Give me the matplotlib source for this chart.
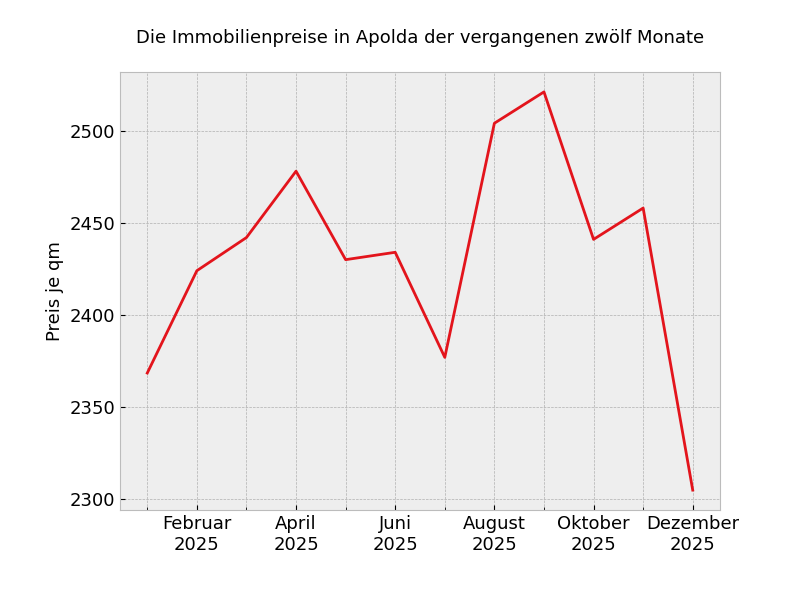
import matplotlib
matplotlib.use("Agg")
import matplotlib.pyplot as plt

plt.style.use("bmh")

months = ["Januar", "Februar", "März", "April", "Mai", "Juni", "Juli",
          "August", "September", "Oktober", "November", "Dezember"]
year = "2025"
prices = [2368.5, 2424, 2442, 2478, 2430, 2434, 2377, 2504, 2521, 2441, 2458, 2305]

fig = plt.figure(figsize=(8, 6), dpi=100)
ax = fig.add_axes([0.15, 0.15, 0.75, 0.73])
x = list(range(len(months)))
ax.plot(x, prices, color="#e3141c", linewidth=2)

ax.set_xticks(x[1::2])
ax.set_xticklabels([f"{m}\n{year}" for m in months[1::2]], fontsize=13)
ax.set_xticks(x[0::2], minor=True)
ax.grid(True, which="both", linestyle="--", linewidth=0.5, color="#b0b0b0")
ax.tick_params(axis="y", labelsize=13)
ax.set_ylabel("Preis je qm", fontsize=13)
ax.set_title("Die Immobilienpreise in Apolda der vergangenen zwölf Monate", fontsize=13, pad=21)
fig.savefig("out.png", dpi=100)
